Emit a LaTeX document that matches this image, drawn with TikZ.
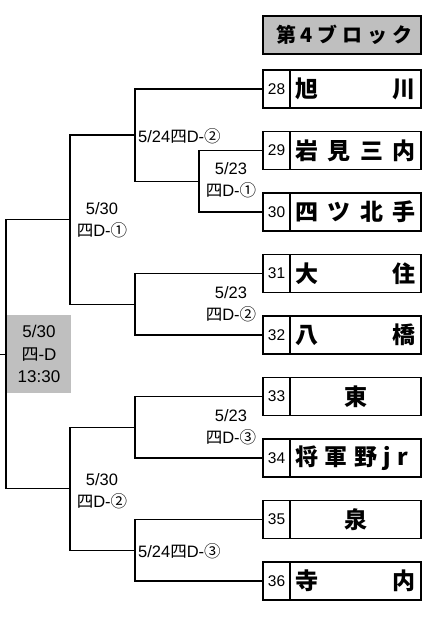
\documentclass[tikz,border=0pt]{standalone}
\usepackage{fontspec}
\setmainfont{Liberation Sans}
\newfontfamily\jfont{Noto Sans CJK JP}
\begin{document}
\begin{tikzpicture}[x=1pt,y=-1pt,
  numcell/.style={draw,line width=1.6pt,minimum width=27pt,minimum height=38pt,inner sep=0pt,font=\fontsize{15.5}{15.5}\selectfont},
  namecell/.style={draw,line width=1.6pt,minimum width=131pt,minimum height=38pt,inner sep=0pt,font=\fontsize{23}{23}\selectfont\jfont\bfseries},
  lab/.style={inner sep=0pt,align=center,font=\fontsize{16.5}{22}\selectfont},
  br/.style={line width=1.4pt}]
\useasboundingbox (0,0) rectangle (445,620);
% header
\node[draw,line width=1.6pt,fill=black!25,minimum width=158pt,minimum height=38pt,inner sep=0pt,
  font=\fontsize{20}{20}\selectfont\jfont\bfseries] (hdr) at (342,35)
  {\hspace*{4pt}\makebox[136pt][l]{第\hfill 4\hfill ブ\hfill ロ\hfill ッ\hfill ク}};
% teams
\foreach \n/\y in {28/89,29/150.5,30/212,31/273.5,32/335,33/396.5,34/458,35/519.5,36/581}{
  \node[numcell] (n\n) at (276.5,\y) {\n};
}
\node[namecell] (t28) at (355.5,89)    {\makebox[120pt][l]{旭\hfill 川}};
\node[namecell] (t29) at (355.5,150.5) {\makebox[120pt][l]{岩\hfill 見\hfill 三\hfill 内}};
\node[namecell] (t30) at (355.5,212)   {\makebox[120pt][l]{四\hfill ツ\hfill 北\hfill 手}};
\node[namecell] (t31) at (355.5,273.5) {\makebox[120pt][l]{大\hfill 住}};
\node[namecell] (t32) at (355.5,335)   {\makebox[120pt][l]{八\hfill 橋}};
\node[namecell] (t33) at (355.5,396.5) {東};
\node[namecell] (t34) at (355.5,458)   {\makebox[120pt][l]{\makebox[113pt][l]{将\hfill 軍\hfill 野\hfill j\hfill r}}};
\node[namecell] (t35) at (355.5,519.5) {泉};
\node[namecell] (t36) at (355.5,581)   {\makebox[120pt][l]{寺\hfill 内}};
% junctions
\coordinate (j1) at (199,181.25);
\coordinate (j2) at (135,135.1);
\coordinate (j3) at (135,304.25);
\coordinate (j4) at (70,219.7);
\coordinate (j5) at (135,427.25);
\coordinate (j6) at (135,550.25);
\coordinate (j7) at (70,488.75);
\coordinate (j8) at (6,354.2);
\coordinate (out) at (0,354.2);
% brackets
\draw[br] (n29.west) -| (j1) |- (n30.west);
\draw[br] (n28.west) -| (j2) |- (j1);
\draw[br] (n31.west) -| (j3) |- (n32.west);
\draw[br] (j2) -| (j4) |- (j3);
\draw[br] (n33.west) -| (j5) |- (n34.west);
\draw[br] (n35.west) -| (j6) |- (n36.west);
\draw[br] (j5) -| (j7) |- (j6);
\draw[br] (j4) -| (j8) |- (j7);
\draw[br] (j8) -- (out);
% final box
\node[fill=black!25,minimum width=64pt,minimum height=78pt,inner sep=0pt,align=center,
  font=\fontsize{17}{22.5}\selectfont] (fin) at (39,354)
  {5/30\\{\jfont 四}-D\\13:30};
% labels
\node[lab,anchor=west] (l1) at (138,136) {5/24{\jfont 四}D-{\jfont ②}};
\node[lab] (l2) at (231,180.5) {5/23\\{\jfont 四}D-{\jfont ①}};
\node[lab] (l3) at (102,220) {5/30\\{\jfont 四}D-{\jfont ①}};
\node[lab] (l4) at (231,304) {5/23\\{\jfont 四}D-{\jfont ②}};
\node[lab] (l5) at (231,427.5) {5/23\\{\jfont 四}D-{\jfont ③}};
\node[lab] (l6) at (102,491) {5/30\\{\jfont 四}D-{\jfont ②}};
\node[lab,anchor=west] (l7) at (138,551) {5/24{\jfont 四}D-{\jfont ③}};
\end{tikzpicture}
\end{document}
